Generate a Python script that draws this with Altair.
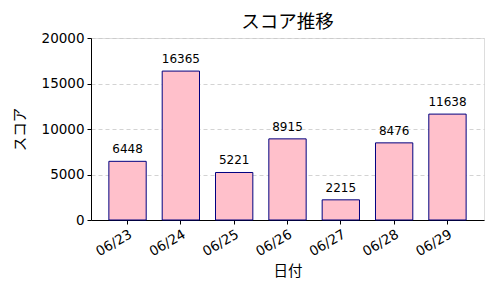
import altair as alt
import pandas as pd

dates = ["06/23", "06/24", "06/25", "06/26", "06/27", "06/28", "06/29"]
scores = [6448, 16365, 5221, 8915, 2215, 8476, 11638]

df = pd.DataFrame({"date": dates, "score": scores})

FONT = "DejaVu Sans, Noto Sans CJK JP"
CJK = "Noto Sans CJK JP"

base = alt.Chart(df).encode(
    x=alt.X("date:N", sort=dates, title="日付",
            scale=alt.Scale(paddingInner=0.3, paddingOuter=0.335),
            axis=alt.Axis(labelAngle=-30, labelAlign="right", labelBaseline="top",
                          labelFontSize=13.5, titleFontSize=14.5, labelPadding=3,
                          titlePadding=6, tickSize=4, tickColor="black",
                          domainColor="black", labelColor="black", titleColor="black",
                          labelFont=FONT, titleFont=CJK, titleFontWeight="normal",
                          grid=False)),
)

bars = base.mark_bar(color="pink", stroke="navy", strokeWidth=1).encode(
    y=alt.Y("score:Q", title="スコア",
            scale=alt.Scale(domain=[0, 20000], nice=False),
            axis=alt.Axis(values=[0, 5000, 10000, 15000, 20000], format="d",
                          labelFontSize=13.5,
                          titleFontSize=14.5, tickSize=4, tickColor="black",
                          domainColor="black", labelColor="black", titleColor="black",
                          labelFont=FONT, titleFont=CJK, titleFontWeight="normal",
                          labelPadding=3, titlePadding=14,
                          grid=True, gridDash=[4, 3], gridColor="#c8c8c8", gridWidth=0.8)),
)

labels = base.mark_text(baseline="bottom", dy=-5, fontSize=12, font=FONT, color="black").encode(
    y=alt.Y("score:Q"),
    text=alt.Text("score:Q", format="d"),
)

chart = (bars + labels).properties(
    width=393, height=182,
    title=alt.TitleParams("スコア推移", fontSize=18.5, font=CJK, fontWeight="normal",
                          color="black", offset=0),
    autosize=alt.AutoSizeParams(type="none"),
    padding={"left": 91, "top": 38, "right": 16, "bottom": 80},
).configure_view(stroke="black", strokeWidth=1).configure(background="white")

chart.save("out.html", embed_options={"renderer": "svg", "actions": False})
